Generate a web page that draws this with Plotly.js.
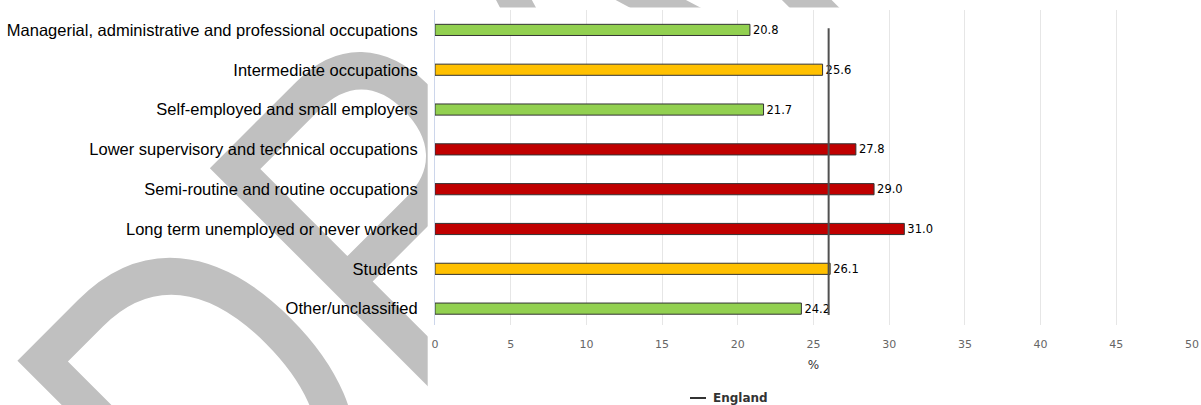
<!DOCTYPE html>
<html>
<head>
<meta charset="utf-8">
<script src="https://cdn.plot.ly/plotly-3.0.1.min.js"></script>
<style>
  html, body { margin: 0; padding: 0; background: #ffffff; }
  #wrap { position: relative; width: 1201px; height: 405px; overflow: hidden; }
  #watermark { position: absolute; left: 0; top: 0; z-index: 0; }
  #chart { position: absolute; left: 0; top: 0; width: 1201px; height: 405px; z-index: 1; }
</style>
</head>
<body>
<div id="wrap">
  <svg id="watermark" width="1201" height="405" xmlns="http://www.w3.org/2000/svg">
    <text x="0" y="0" transform="translate(231.5,618.5) rotate(-45) scale(0.777,1)"
          font-family="Liberation Sans, Arial, sans-serif" font-size="485" fill="#c0c0c0">DRAFT</text>
  </svg>
  <div id="chart"></div>
</div>
<script>
// ---- data ----
const categories = [
  "Managerial, administrative and professional occupations",
  "Intermediate occupations",
  "Self-employed and small employers",
  "Lower supervisory and technical occupations",
  "Semi-routine and routine occupations",
  "Long term unemployed or never worked",
  "Students",
  "Other/unclassified"
];
const values = [20.8, 25.6, 21.7, 27.8, 29.0, 31.0, 26.1, 24.2];
const ragStatus = ["green", "amber", "green", "red", "red", "red", "amber", "green"];
const englandValue = 26.0;
const englandSpan = [-0.04, 7.16];   // category-index extent of the England line
const xTicks = [0, 5, 10, 15, 20, 25, 30, 35, 40, 45, 50];
const legendLabel = "England";
const xTitle = "%";

// ---- styling ----
const ragColors = { green: "#92d050", amber: "#ffc000", red: "#c00000" };
const idx = categories.map((_, i) => i);

const bars = {
  type: "bar",
  orientation: "h",
  y: idx,
  x: values,
  width: 0.28,
  marker: {
    color: ragStatus.map(s => ragColors[s]),
    line: { color: "#333333", width: 1 }
  },
  text: values.map(v => v.toFixed(1)),
  textposition: "outside",
  constraintext: "none",
  textfont: { family: "DejaVu Sans, sans-serif", size: 11.5, color: "#000000" },
  cliponaxis: false,
  hoverinfo: "skip",
  showlegend: false
};

const england = {
  type: "scatter",
  mode: "lines",
  x: englandSpan.map(() => englandValue),
  y: englandSpan,
  line: { color: "#505050", width: 2 },
  name: legendLabel,
  hoverinfo: "skip",
  showlegend: false
};

const W = 1201, H = 405;
const m = { l: 435, r: 9, t: 10, b: 80 };
const pw = W - m.l - m.r, ph = H - m.t - m.b;
const px2x = p => (p - m.l) / pw;
const py2y = p => (H - m.b - p) / ph;

const layout = {
  width: W, height: H,
  margin: m,
  paper_bgcolor: "rgba(0,0,0,0)",
  plot_bgcolor: "rgba(0,0,0,0)",
  showlegend: false,
  bargap: 0,
  xaxis: {
    range: [0, 50],
    tickvals: xTicks,
    ticktext: xTicks.map(String),
    showgrid: true,
    gridcolor: "#e6e6e6",
    gridwidth: 1,
    zeroline: false,
    showline: false,
    ticks: "",
    ticklabelstandoff: 11,
    tickfont: { family: "DejaVu Sans, sans-serif", size: 11, color: "#666666" },
    title: { text: xTitle, standoff: 10, font: { family: "DejaVu Sans, sans-serif", size: 12, color: "#333333" } },
    fixedrange: true
  },
  yaxis: {
    range: [7.411, -0.5],
    tickvals: idx,
    ticktext: categories,
    showgrid: false,
    zeroline: false,
    showline: true,
    linecolor: "#ccd6eb",
    linewidth: 1,
    ticks: "",
    ticklabelstandoff: 13,
    tickfont: { family: "Liberation Sans, Arial, sans-serif", size: 16.5, color: "#000000" },
    fixedrange: true
  },
  shapes: [
    // white panel that hides the watermark behind the chart body
    { type: "rect", xref: "paper", yref: "paper", layer: "below",
      x0: px2x(427.7), x1: px2x(1210), y0: py2y(410), y1: py2y(7.5),
      fillcolor: "#ffffff", line: { width: 0 } },
    // legend symbol
    { type: "line", xref: "paper", yref: "paper",
      x0: px2x(690), x1: px2x(706), y0: py2y(398), y1: py2y(398),
      line: { color: "#333333", width: 2 } }
  ],
  annotations: [
    { xref: "paper", yref: "paper", x: px2x(711), y: py2y(398),
      xanchor: "left", yanchor: "middle", showarrow: false,
      text: "<b>" + legendLabel + "</b>",
      font: { family: "DejaVu Sans, sans-serif", size: 12, color: "#333333" } }
  ]
};

Plotly.newPlot("chart", [bars, england], layout, { displayModeBar: false, staticPlot: true });
</script>
</body>
</html>
